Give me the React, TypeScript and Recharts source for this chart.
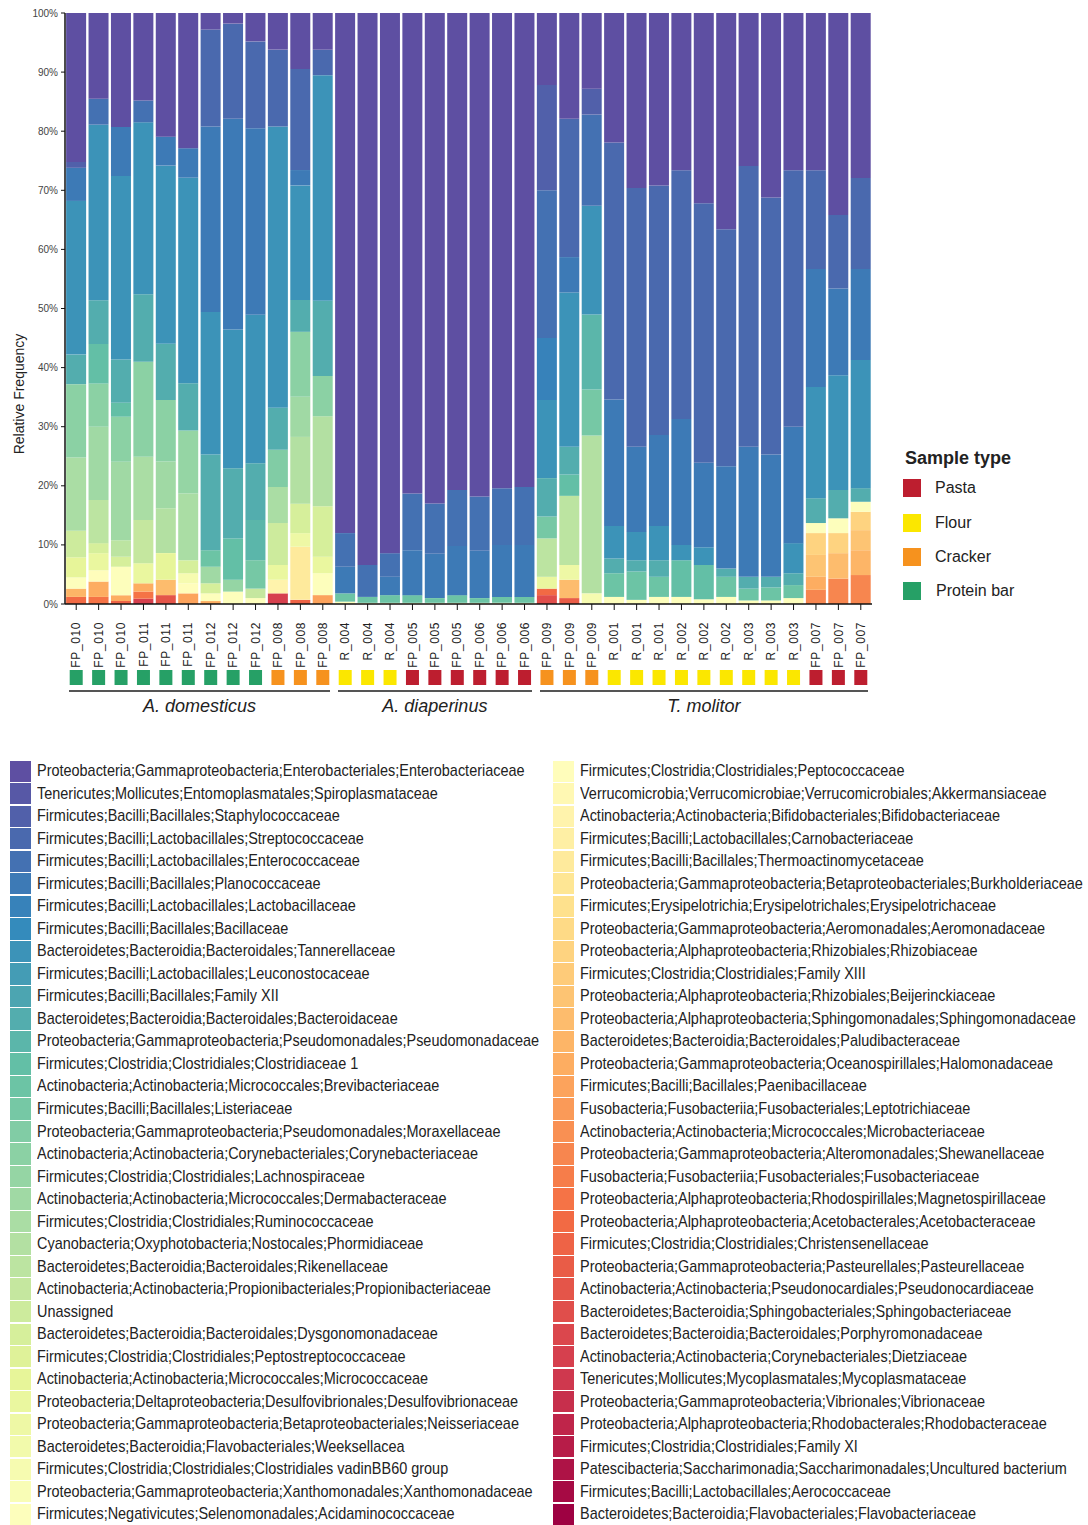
import React from 'react';
import { BarChart, Bar, XAxis, YAxis, Legend } from 'recharts';

// legend order: index 0 sits on top of every stack
const taxa = [
  'Proteobacteria;Gammaproteobacteria;Enterobacteriales;Enterobacteriaceae',
  'Tenericutes;Mollicutes;Entomoplasmatales;Spiroplasmataceae',
  'Firmicutes;Bacilli;Bacillales;Staphylococcaceae',
  'Firmicutes;Bacilli;Lactobacillales;Streptococcaceae',
  'Firmicutes;Bacilli;Lactobacillales;Enterococcaceae',
  'Firmicutes;Bacilli;Bacillales;Planococcaceae',
  'Firmicutes;Bacilli;Lactobacillales;Lactobacillaceae',
  'Firmicutes;Bacilli;Bacillales;Bacillaceae',
  'Bacteroidetes;Bacteroidia;Bacteroidales;Tannerellaceae',
  'Firmicutes;Bacilli;Lactobacillales;Leuconostocaceae',
  'Firmicutes;Bacilli;Bacillales;Family XII',
  'Bacteroidetes;Bacteroidia;Bacteroidales;Bacteroidaceae',
  'Proteobacteria;Gammaproteobacteria;Pseudomonadales;Pseudomonadaceae',
  'Firmicutes;Clostridia;Clostridiales;Clostridiaceae 1',
  'Actinobacteria;Actinobacteria;Micrococcales;Brevibacteriaceae',
  'Firmicutes;Bacilli;Bacillales;Listeriaceae',
  'Proteobacteria;Gammaproteobacteria;Pseudomonadales;Moraxellaceae',
  'Actinobacteria;Actinobacteria;Corynebacteriales;Corynebacteriaceae',
  'Firmicutes;Clostridia;Clostridiales;Lachnospiraceae',
  'Actinobacteria;Actinobacteria;Micrococcales;Dermabacteraceae',
  'Firmicutes;Clostridia;Clostridiales;Ruminococcaceae',
  'Cyanobacteria;Oxyphotobacteria;Nostocales;Phormidiaceae',
  'Bacteroidetes;Bacteroidia;Bacteroidales;Rikenellaceae',
  'Actinobacteria;Actinobacteria;Propionibacteriales;Propionibacteriaceae',
  'Unassigned',
  'Bacteroidetes;Bacteroidia;Bacteroidales;Dysgonomonadaceae',
  'Firmicutes;Clostridia;Clostridiales;Peptostreptococcaceae',
  'Actinobacteria;Actinobacteria;Micrococcales;Micrococcaceae',
  'Proteobacteria;Deltaproteobacteria;Desulfovibrionales;Desulfovibrionaceae',
  'Proteobacteria;Gammaproteobacteria;Betaproteobacteriales;Neisseriaceae',
  'Bacteroidetes;Bacteroidia;Flavobacteriales;Weeksellacea',
  'Firmicutes;Clostridia;Clostridiales;Clostridiales vadinBB60 group',
  'Proteobacteria;Gammaproteobacteria;Xanthomonadales;Xanthomonadaceae',
  'Firmicutes;Negativicutes;Selenomonadales;Acidaminococcaceae',
  'Firmicutes;Clostridia;Clostridiales;Peptococcaceae',
  'Verrucomicrobia;Verrucomicrobiae;Verrucomicrobiales;Akkermansiaceae',
  'Actinobacteria;Actinobacteria;Bifidobacteriales;Bifidobacteriaceae',
  'Firmicutes;Bacilli;Lactobacillales;Carnobacteriaceae',
  'Firmicutes;Bacilli;Bacillales;Thermoactinomycetaceae',
  'Proteobacteria;Gammaproteobacteria;Betaproteobacteriales;Burkholderiaceae',
  'Firmicutes;Erysipelotrichia;Erysipelotrichales;Erysipelotrichaceae',
  'Proteobacteria;Gammaproteobacteria;Aeromonadales;Aeromonadaceae',
  'Proteobacteria;Alphaproteobacteria;Rhizobiales;Rhizobiaceae',
  'Firmicutes;Clostridia;Clostridiales;Family XIII',
  'Proteobacteria;Alphaproteobacteria;Rhizobiales;Beijerinckiaceae',
  'Proteobacteria;Alphaproteobacteria;Sphingomonadales;Sphingomonadaceae',
  'Bacteroidetes;Bacteroidia;Bacteroidales;Paludibacteraceae',
  'Proteobacteria;Gammaproteobacteria;Oceanospirillales;Halomonadaceae',
  'Firmicutes;Bacilli;Bacillales;Paenibacillaceae',
  'Fusobacteria;Fusobacteriia;Fusobacteriales;Leptotrichiaceae',
  'Actinobacteria;Actinobacteria;Micrococcales;Microbacteriaceae',
  'Proteobacteria;Gammaproteobacteria;Alteromonadales;Shewanellaceae',
  'Fusobacteria;Fusobacteriia;Fusobacteriales;Fusobacteriaceae',
  'Proteobacteria;Alphaproteobacteria;Rhodospirillales;Magnetospirillaceae',
  'Proteobacteria;Alphaproteobacteria;Acetobacterales;Acetobacteraceae',
  'Firmicutes;Clostridia;Clostridiales;Christensenellaceae',
  'Proteobacteria;Gammaproteobacteria;Pasteurellales;Pasteurellaceae',
  'Actinobacteria;Actinobacteria;Pseudonocardiales;Pseudonocardiaceae',
  'Bacteroidetes;Bacteroidia;Sphingobacteriales;Sphingobacteriaceae',
  'Bacteroidetes;Bacteroidia;Bacteroidales;Porphyromonadaceae',
  'Actinobacteria;Actinobacteria;Corynebacteriales;Dietziaceae',
  'Tenericutes;Mollicutes;Mycoplasmatales;Mycoplasmataceae',
  'Proteobacteria;Gammaproteobacteria;Vibrionales;Vibrionaceae',
  'Proteobacteria;Alphaproteobacteria;Rhodobacterales;Rhodobacteraceae',
  'Firmicutes;Clostridia;Clostridiales;Family XI',
  'Patescibacteria;Saccharimonadia;Saccharimonadales;Uncultured bacterium',
  'Firmicutes;Bacilli;Lactobacillales;Aerococcaceae',
  'Bacteroidetes;Bacteroidia;Flavobacteriales;Flavobacteriaceae',
];

const sampleLabels = [
  'FP_010', 'FP_010', 'FP_010', 'FP_011', 'FP_011', 'FP_011',
  'FP_012', 'FP_012', 'FP_012', 'FP_008', 'FP_008', 'FP_008',
  'R_004', 'R_004', 'R_004', 'FP_005', 'FP_005', 'FP_005',
  'FP_006', 'FP_006', 'FP_006',
  'FP_009', 'FP_009', 'FP_009', 'R_001', 'R_001', 'R_001',
  'R_002', 'R_002', 'R_002', 'R_003', 'R_003', 'R_003',
  'FP_007', 'FP_007', 'FP_007',
];

const sampleTypes = [
  'Protein bar', 'Protein bar', 'Protein bar', 'Protein bar', 'Protein bar', 'Protein bar',
  'Protein bar', 'Protein bar', 'Protein bar', 'Cracker', 'Cracker', 'Cracker',
  'Flour', 'Flour', 'Flour', 'Pasta', 'Pasta', 'Pasta',
  'Pasta', 'Pasta', 'Pasta',
  'Cracker', 'Cracker', 'Cracker', 'Flour', 'Flour', 'Flour',
  'Flour', 'Flour', 'Flour', 'Flour', 'Flour', 'Flour',
  'Pasta', 'Pasta', 'Pasta',
];

const typeNames = ['Pasta', 'Flour', 'Cracker', 'Protein bar'];
const typeColors = ['#bd1e2f', '#fbe700', '#f6921e', '#26a066'];

const hostNames = ['A. domesticus', 'A. diaperinus', 'T. molitor'];
const hostSizes = [12, 9, 15];

const yTicks = [0, 0.1, 0.2, 0.3, 0.4, 0.5, 0.6, 0.7, 0.8, 0.9, 1];

// [taxon index, relative frequency %] per sample
type Pair = [number, number];
const FP010a: Pair[] = [[0, 25.2], [2, 1.0], [5, 5.6], [8, 26.0], [11, 5.0], [17, 12.4], [20, 12.4], [24, 4.5], [27, 3.4], [33, 1.9], [46, 1.4], [54, 1.2]];
const FP010b: Pair[] = [[0, 14.5], [4, 4.4], [8, 29.7], [11, 7.4], [13, 6.7], [17, 7.3], [19, 12.4], [22, 7.3], [25, 1.7], [28, 2.9], [34, 1.9], [47, 2.6], [53, 1.2]];
const FP010c: Pair[] = [[0, 19.3], [5, 8.3], [8, 31.1], [11, 7.3], [13, 2.4], [17, 7.6], [19, 13.3], [22, 2.8], [25, 1.7], [33, 4.8], [47, 1.0], [55, 0.5]];
const FP011a: Pair[] = [[0, 14.8], [4, 3.7], [8, 29.1], [11, 11.4], [17, 16.1], [20, 10.7], [23, 7.3], [28, 3.4], [47, 1.4], [53, 1.2], [60, 0.9]];
const FP011b: Pair[] = [[0, 20.9], [5, 4.9], [8, 30.1], [11, 9.5], [17, 10.4], [19, 7.9], [21, 7.6], [27, 4.5], [45, 2.6], [57, 1.5]];
const FP011c: Pair[] = [[0, 22.9], [5, 5.0], [8, 34.8], [11, 8.0], [18, 10.7], [20, 11.3], [25, 2.2], [31, 1.7], [34, 1.7], [48, 1.8]];
const FP012a: Pair[] = [[0, 2.8], [3, 16.4], [5, 31.4], [8, 24.1], [11, 16.2], [14, 2.8], [19, 2.8], [25, 1.7], [33, 1.3], [47, 0.5]];
const FP012b: Pair[] = [[0, 1.8], [3, 16.1], [5, 35.7], [8, 23.5], [11, 11.9], [13, 7.0], [18, 2.0], [33, 2.1]];
const FP012c: Pair[] = [[0, 4.8], [3, 14.7], [5, 31.5], [8, 25.1], [11, 9.6], [12, 6.8], [15, 4.8], [23, 1.6], [33, 1.0]];
const FP008a: Pair[] = [[0, 6.2], [3, 13.0], [8, 47.6], [11, 7.1], [16, 6.3], [20, 6.1], [24, 7.1], [28, 2.5], [36, 2.3], [60, 1.8]];
const FP008b: Pair[] = [[0, 9.5], [3, 17.1], [5, 2.6], [8, 19.4], [11, 5.4], [17, 11.0], [19, 6.8], [21, 11.3], [25, 5.0], [29, 2.3], [38, 9.0], [55, 0.7]];
const FP008c: Pair[] = [[0, 6.2], [3, 4.3], [8, 38.1], [11, 12.7], [17, 6.8], [21, 15.2], [25, 8.5], [28, 2.8], [33, 3.7], [48, 1.5]];
const R004a: Pair[] = [[0, 88.0], [4, 5.7], [5, 4.5], [14, 1.4], [33, 0.4]];
const R004b: Pair[] = [[0, 93.4], [4, 5.4], [14, 1.0], [33, 0.2]];
const R004c: Pair[] = [[0, 91.4], [4, 4.0], [5, 3.1], [14, 1.3], [33, 0.2]];
const FP005a: Pair[] = [[0, 81.3], [4, 9.6], [5, 7.6], [14, 1.3], [33, 0.2]];
const FP005b: Pair[] = [[0, 83.0], [4, 8.5], [5, 7.5], [14, 0.8], [33, 0.2]];
const FP005c: Pair[] = [[0, 80.7], [4, 9.5], [5, 8.3], [14, 1.3], [33, 0.2]];
const FP006a: Pair[] = [[0, 81.8], [4, 9.2], [5, 8.0], [14, 0.8], [33, 0.2]];
const FP006b: Pair[] = [[0, 80.4], [4, 9.6], [5, 8.8], [14, 1.0], [33, 0.2]];
const FP006c: Pair[] = [[0, 80.2], [4, 9.8], [5, 8.8], [14, 1.0], [33, 0.2]];
const FP009a: Pair[] = [[0, 12.2], [2, 17.8], [4, 25.0], [6, 10.5], [8, 13.2], [11, 6.5], [15, 3.7], [22, 6.5], [28, 2.0], [54, 1.1], [58, 1.5]];
const FP009b: Pair[] = [[0, 17.9], [3, 23.4], [5, 6.0], [8, 26.1], [11, 4.7], [13, 3.6], [22, 11.7], [29, 2.5], [45, 3.1], [56, 1.0]];
const FP009c: Pair[] = [[0, 12.8], [2, 4.4], [4, 15.4], [8, 18.4], [12, 12.7], [15, 7.8], [21, 26.7], [31, 1.8]];
const R001a: Pair[] = [[0, 21.9], [3, 43.5], [5, 21.4], [8, 5.5], [11, 2.5], [14, 4.0], [33, 1.2]];
const R001b: Pair[] = [[0, 29.6], [3, 43.8], [5, 14.4], [8, 4.8], [11, 1.9], [14, 4.8], [33, 0.7]];
const R001c: Pair[] = [[0, 29.2], [3, 42.2], [5, 15.4], [8, 5.8], [11, 2.8], [14, 3.4], [33, 1.2]];
const R002a: Pair[] = [[0, 26.6], [3, 42.1], [5, 21.3], [8, 2.6], [13, 6.2], [33, 1.2]];
const R002b: Pair[] = [[0, 32.2], [3, 43.9], [5, 14.3], [8, 3.0], [13, 5.8], [33, 0.8]];
const R002c: Pair[] = [[0, 36.6], [3, 40.1], [5, 17.3], [11, 1.4], [14, 3.4], [33, 1.2]];
const R003a: Pair[] = [[0, 25.9], [3, 47.5], [5, 22.0], [11, 2.0], [14, 2.0], [33, 0.6]];
const R003b: Pair[] = [[0, 31.2], [3, 43.5], [5, 20.7], [11, 1.8], [14, 2.2], [33, 0.6]];
const R003c: Pair[] = [[0, 26.6], [3, 43.4], [5, 19.7], [8, 5.1], [11, 2.0], [14, 2.2], [33, 1.0]];
const FP007a: Pair[] = [[0, 26.6], [3, 16.7], [5, 20.0], [8, 18.8], [11, 4.2], [33, 1.7], [42, 3.7], [44, 3.7], [47, 2.2], [51, 2.4]];
const FP007b: Pair[] = [[0, 34.2], [3, 12.4], [5, 14.7], [8, 19.4], [11, 4.8], [33, 2.5], [42, 3.4], [45, 4.3], [51, 4.3]];
const FP007c: Pair[] = [[0, 27.9], [3, 15.4], [5, 15.4], [8, 21.7], [11, 2.3], [33, 1.7], [42, 3.1], [44, 3.4], [46, 4.2], [51, 4.9]];

const abundances = [
  FP010a, FP010b, FP010c, FP011a, FP011b, FP011c, FP012a, FP012b, FP012c, FP008a, FP008b, FP008c,
  R004a, R004b, R004c, FP005a, FP005b, FP005c, FP006a, FP006b, FP006c,
  FP009a, FP009b, FP009c, R001a, R001b, R001c, R002a, R002b, R002c, R003a, R003b, R003c,
  FP007a, FP007b, FP007c,
];

// reversed Spectral ramp, spread over all taxa
const SPECTRAL = ['#5e4fa2', '#3288bd', '#66c2a5', '#abdda4', '#e6f598', '#ffffbf', '#fee08b', '#fdae61', '#f46d43', '#d53e4f', '#9e0142'];
const hex = (c: string) => [1, 3, 5].map((k) => parseInt(c.slice(k, k + 2), 16));
function rampColor(t: number) {
  const p = t * (SPECTRAL.length - 1);
  const i = Math.min(Math.floor(p), SPECTRAL.length - 2);
  const f = p - i;
  const a = hex(SPECTRAL[i]);
  const b = hex(SPECTRAL[i + 1]);
  const rgb = a.map((v, k) => Math.round(v + (b[k] - v) * f));
  return `rgb(${rgb.join(',')})`;
}
const colors = taxa.map((_, i) => rampColor(i / (taxa.length - 1)));

const data = abundances.map((pairs, i) => {
  const row: Record<string, number | string> = { key: `s${i}` };
  taxa.forEach((_, t) => (row[`t${t}`] = 0));
  pairs.forEach(([t, v]) => (row[`t${t}`] = v));
  return row;
});

const CHART_W = 1088;
const CHART_H = 720;
const MARGIN = { top: 13, right: 216, bottom: 6, left: 0 };
const Y_W = 65;
const PITCH = (CHART_W - MARGIN.left - MARGIN.right - Y_W) / sampleLabels.length;

const hostStarts = hostSizes.map((_, g) => hostSizes.slice(0, g).reduce((s, n) => s + n, 0));

const SampleTick = (props: any) => {
  const { x, y } = props;
  const index: number = props.payload?.index ?? props.index;
  const g = hostStarts.findIndex((s, k) => index >= s && index < s + hostSizes[k]);
  const start = hostStarts[g];
  const end = start + hostSizes[g] - 1;
  const x1 = x - PITCH / 2 + (index === start ? 4 : 0);
  const x2 = x + PITCH / 2 - (index === end ? 4 : 0);
  const mid = (start + end) / 2;
  const showHost = index === Math.floor(mid);
  const hostX = x + (mid - Math.floor(mid)) * PITCH;
  const tc = typeColors[typeNames.indexOf(sampleTypes[index])];
  return (
    <g>
      <text
        transform={`translate(${x},${y + 12}) rotate(-90)`}
        textAnchor="end"
        dy="0.35em"
        fontSize={12}
        letterSpacing={0.6}
        fill="#222"
      >
        {sampleLabels[index]}
      </text>
      <rect x={x - 6.5} y={y + 60} width={13} height={15} fill={tc} />
      <line x1={x1} x2={x2} y1={y + 81} y2={y + 81} stroke="#555" strokeWidth={1.6} shapeRendering="crispEdges" />
      {showHost && (
        <text x={hostX} y={y + 102} textAnchor="middle" fontSize={18} fontStyle="italic" fill="#222">
          {hostNames[g]}
        </text>
      )}
    </g>
  );
};

const YTitle = () => (
  <text transform="translate(19,394) rotate(-90)" textAnchor="middle" dy="0.35em" fontSize={14} fill="#222">
    Relative Frequency
  </text>
);

const SampleTypeLegend = () => (
  <div style={{ fontFamily: '"Liberation Sans", Arial, sans-serif', color: '#222' }}>
    <div style={{ fontWeight: 'bold', fontSize: 18, lineHeight: '24px', marginLeft: 2 }}>Sample type</div>
    <div style={{ marginTop: 1 }}>
      {typeNames.map((n, i) => (
        <div key={n} style={{ display: 'flex', alignItems: 'center', height: 34.4 }}>
          <div style={{ width: 18, height: 18, background: typeColors[i] }} />
          <span style={{ marginLeft: i === 3 ? 15 : 14, fontSize: 16 }}>{n}</span>
        </div>
      ))}
    </div>
  </div>
);

// the figure uses a condensed face; squeeze Liberation Sans to the same width
const TaxaLegend = () => {
  const half = taxa.length / 2;
  const cols = [taxa.slice(0, half), taxa.slice(half)];
  const lefts = [10, 553];
  return (
    <>
      {cols.map((col, c) => (
        <div key={c} style={{ position: 'absolute', left: lefts[c], top: 760 }}>
          {col.map((name, r) => (
            <div key={name} style={{ display: 'flex', alignItems: 'center', height: 22.52 }}>
              <div style={{ width: 21, height: 21.3, flex: 'none', background: colors[c * half + r] }} />
              <span
                style={{
                  display: 'inline-block',
                  marginLeft: 6,
                  fontFamily: '"Liberation Sans", Arial, sans-serif',
                  fontSize: 17,
                  color: '#222',
                  whiteSpace: 'nowrap',
                  transform: 'scaleX(0.85)',
                  transformOrigin: '0 50%',
                }}
              >
                {name}
              </span>
            </div>
          ))}
        </div>
      ))}
    </>
  );
};

export default function App() {
  const order = taxa.map((_, i) => i).reverse();
  return (
    <div
      style={{
        position: 'absolute',
        left: 0,
        top: 0,
        width: 1088,
        height: 1525,
        overflow: 'hidden',
        background: '#fff',
        fontFamily: '"Liberation Sans", Arial, sans-serif',
      }}
    >
      <BarChart
        width={CHART_W}
        height={CHART_H}
        data={data}
        margin={MARGIN}
        stackOffset="expand"
        barCategoryGap="5%"
      >
        <XAxis
          dataKey="key"
          interval={0}
          height={110}
          tickSize={6}
          tickMargin={0}
          axisLine={{ stroke: '#111', strokeWidth: 1.5 }}
          tickLine={{ stroke: '#111' }}
          tick={<SampleTick />}
        />
        <YAxis
          width={Y_W}
          domain={[0, 1]}
          ticks={yTicks}
          tickFormatter={(v: number) => `${Math.round(v * 100)}%`}
          tickSize={4}
          tickMargin={3}
          tick={{ fontSize: 10, fill: '#444' }}
          axisLine={{ stroke: '#111', strokeWidth: 1.5 }}
          tickLine={{ stroke: '#111' }}
          label={{ value: 'Relative Frequency', content: <YTitle /> }}
        />
        {order.map((t) => (
          <Bar key={t} dataKey={`t${t}`} stackId="a" fill={colors[t]} isAnimationActive={false} />
        ))}
        <Legend
          layout="vertical"
          align="center"
          verticalAlign="middle"
          wrapperStyle={{ left: 903, top: 446, width: 185 }}
          content={<SampleTypeLegend />}
        />
      </BarChart>
      <TaxaLegend />
    </div>
  );
}
